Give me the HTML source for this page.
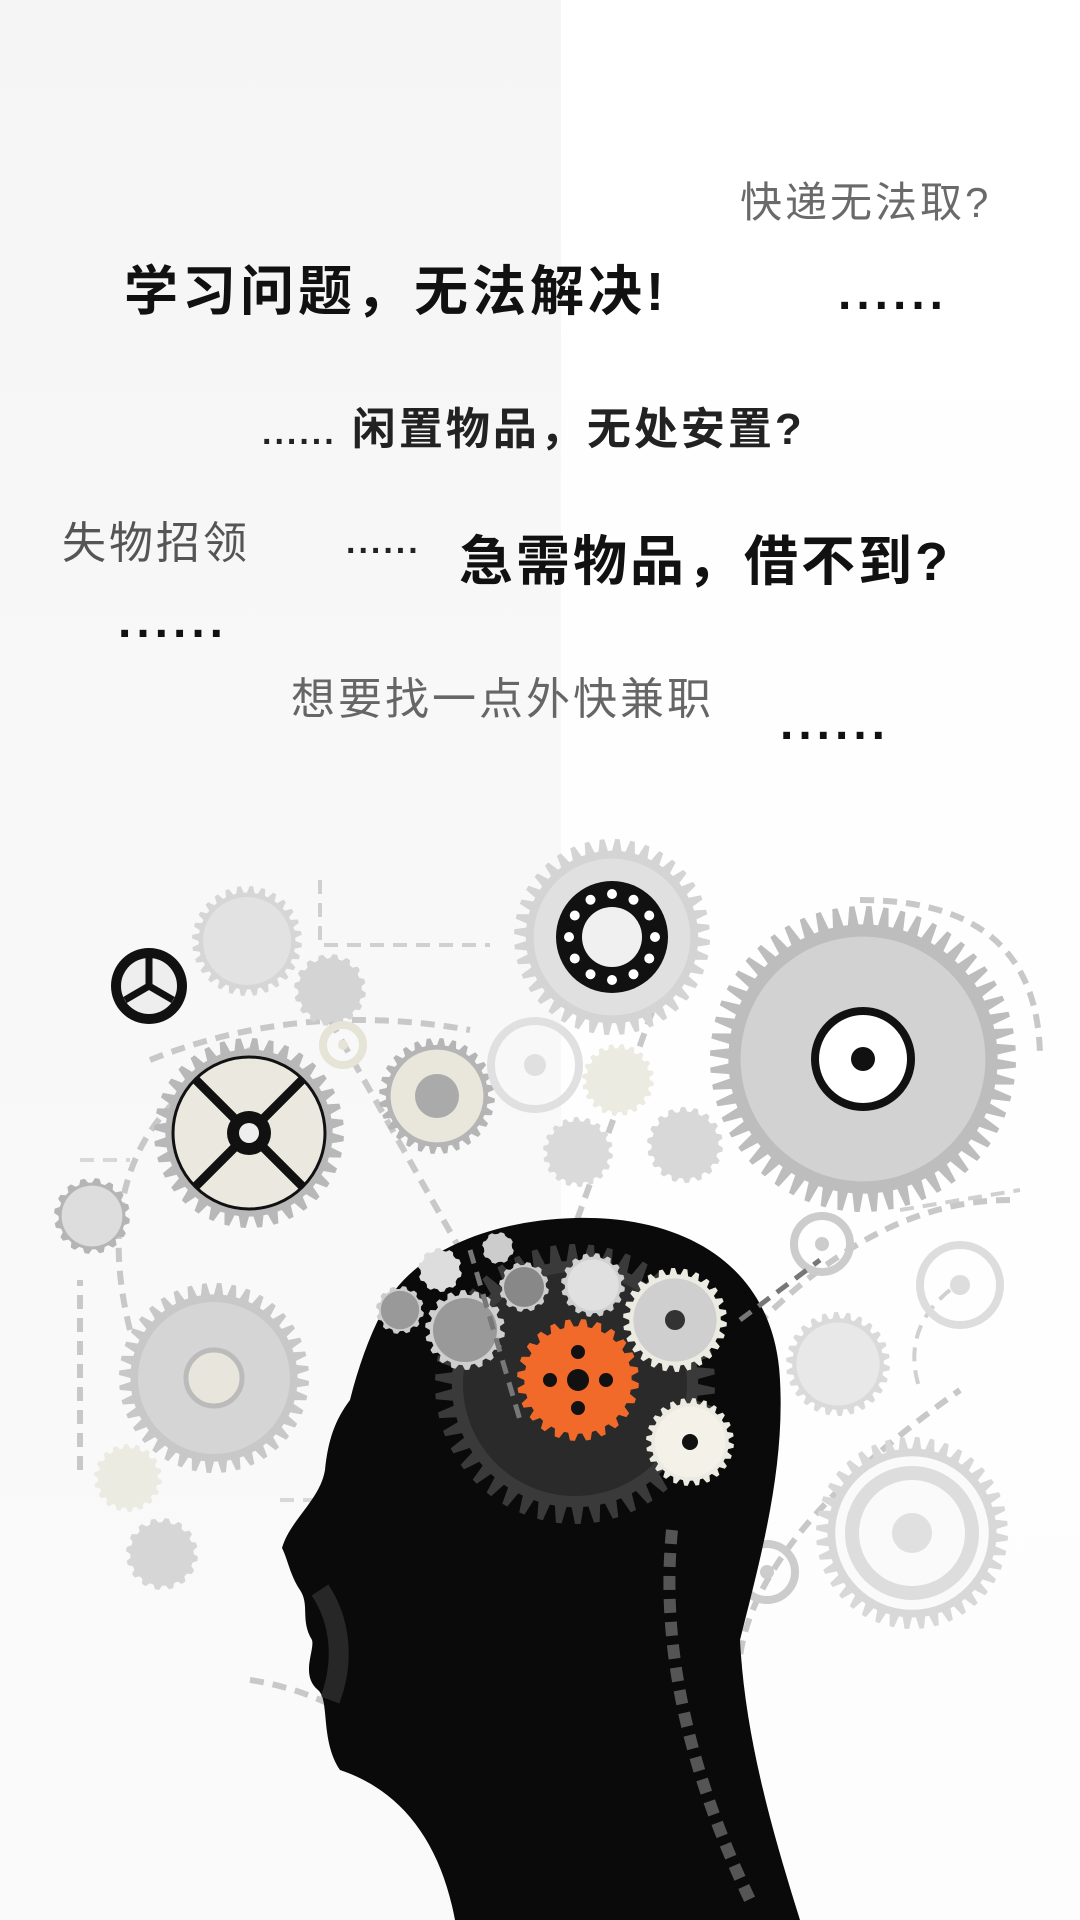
<!DOCTYPE html>
<html><head><meta charset="utf-8">
<style>
html,body{margin:0;padding:0}
body{width:1080px;height:1920px;position:relative;overflow:hidden;background:#fff;font-family:"Liberation Sans","Noto Sans CJK SC",sans-serif}
#bgl{position:absolute;left:0;top:0;width:561px;height:1920px;background:linear-gradient(#f5f5f5,#f8f8f8 40%,#fafafa)}
#bgr{position:absolute;left:561px;top:0;width:519px;height:1920px;background:linear-gradient(#fff,#fdfdfd)}
.t{position:absolute;white-space:nowrap;letter-spacing:3px;line-height:1}
.d{letter-spacing:5px}
svg{position:absolute;left:0;top:0}
</style></head><body>
<div id="bgl"></div>
<div id="bgr"></div>
<svg width="1080" height="1920" id="art"></svg>
<div class="t" style="left:740px;top:182px;font-size:42px;color:#6a6a6a">快递无法取?</div>
<div class="t" style="left:124px;top:265px;font-size:54px;color:#111;font-weight:bold;letter-spacing:4px">学习问题，无法解决!</div>
<div class="t d" style="left:838px;top:270px;font-size:48px;color:#111;font-weight:bold">......</div>
<div class="t" style="left:262px;top:408px;font-size:44px;color:#222;font-weight:bold"><span style="font-size:34px">......</span> 闲置物品，无处安置?</div>
<div class="t" style="left:62px;top:522px;font-size:44px;color:#555">失物招领</div>
<div class="t" style="left:346px;top:525px;font-size:34px;color:#222;font-weight:bold">......</div>
<div class="t" style="left:459px;top:535px;font-size:54px;color:#111;font-weight:bold">急需物品，借不到?</div>
<div class="t d" style="left:118px;top:598px;font-size:48px;color:#111;font-weight:bold">......</div>
<div class="t" style="left:291px;top:678px;font-size:44px;color:#666">想要找一点外快兼职</div>
<div class="t d" style="left:780px;top:700px;font-size:48px;color:#111;font-weight:bold">......</div>
<script>
const NS="http://www.w3.org/2000/svg";
const svg=document.getElementById('art');
function el(tag,attrs,parent){const e=document.createElementNS(NS,tag);for(const k in attrs)e.setAttribute(k,attrs[k]);(parent||svg).appendChild(e);return e;}
function gearPath(cx,cy,r,n,th){let d='';const step=Math.PI*2/n;for(let i=0;i<n;i++){const a=i*step;const pts=[[a,r-th],[a+step*0.2,r],[a+step*0.5,r],[a+step*0.7,r-th]];pts.forEach((p,j)=>{const x=cx+p[1]*Math.cos(p[0]),y=cy+p[1]*Math.sin(p[0]);d+=(i==0&&j==0?'M':'L')+x.toFixed(1)+' '+y.toFixed(1);});}return d+'Z';}
function gear(cx,cy,r,n,col,inner,name){const g=el('g',{});


el('path',{d:gearPath(cx,cy,r,n,r*0.12),fill:col},g);
if(inner)el('circle',{cx,cy,r:r*0.8,fill:inner},g);return g;}
function dash(d,col,w){const p=el('path',{d,fill:'none',stroke:col||'#c8c8c8','stroke-width':w||6,'stroke-dasharray':'14 9'});

}
dash('M860 900 Q1040 900 1040 1060');dash('M150 1060 Q300 1000 470 1030');dash('M130 1330 Q80 1130 250 1050');
dash('M330 1020 L500 1320');dash('M660 990 L530 1350');dash('M1010 1200 Q850 1200 700 1390');
dash('M740 1700 Q720 1560 960 1390');dash('M80 1470 L80 1280');dash('M250 1680 Q380 1700 450 1820');
dash('M320 880 L320 945 L490 945','#d0d0d0',4);dash('M280 1500 L460 1500','#d8d8d8',4);dash('M900 1210 L1020 1190','#d0d0d0',4);
dash('M80 1160 L130 1160','#d8d8d8',4);dash('M950 1290 Q900 1330 920 1390','#d0d0d0',4);
gear(863,1059,153,56,'#bdbdbd','#d2d2d2','big-gear-right');
el('circle',{cx:863,cy:1059,r:48,fill:'#fff',stroke:'#111','stroke-width':8});
el('circle',{cx:863,cy:1059,r:12,fill:'#111'});
gear(612,937,98,40,'#d4d4d4','#e0e0e0','gear-top');
el('circle',{cx:612,cy:937,r:56,fill:'#111'});el('circle',{cx:612,cy:937,r:30,fill:'#f0f0f0'});
for(let i=0;i<12;i++){const a=i*Math.PI/6;el('circle',{cx:612+43*Math.cos(a),cy:937+43*Math.sin(a),r:5,fill:'#fff'});}
gear(249,1133,95,36,'#b8b8b8','#a8a8a8','gear-x-wheel');
el('circle',{cx:249,cy:1133,r:76,fill:'#ebe9df',stroke:'#111','stroke-width':3});
el('path',{d:'M196 1080 L302 1186 M302 1080 L196 1186',stroke:'#111','stroke-width':9});
el('circle',{cx:249,cy:1133,r:22,fill:'#111'});el('circle',{cx:249,cy:1133,r:10,fill:'#eee'});
gear(214,1378,95,40,'#c8c8c8','#d5d5d5','gear-left-lower');
el('circle',{cx:214,cy:1378,r:28,fill:'#e8e6dc',stroke:'#bbb','stroke-width':5});
gear(912,1533,96,40,'#d8d8d8','#fafafa','gear-bottom-right');
el('circle',{cx:912,cy:1533,r:60,fill:'none',stroke:'#ddd','stroke-width':14});
el('circle',{cx:912,cy:1533,r:20,fill:'#e0e0e0'});
gear(437,1096,58,28,'#b5b5b5','#e9e7dc','gear-mid');el('circle',{cx:437,cy:1096,r:22,fill:'#aaa'});
gear(247,941,55,28,'#d6d6d6','#e2e2e2','gear-upper-left');
gear(330,990,36,16,'#d4d4d4',null,'gear-small-1');
gear(578,1152,35,18,'#dadada',null,'gear-small-2');
gear(685,1145,38,18,'#d8d8d8',null,'gear-small-3');
gear(618,1080,36,20,'#ecebe2',null,'gear-small-4');
gear(838,1364,52,26,'#dadada','#e8e8e8','gear-right-mid');
gear(92,1216,38,16,'#b5b5b5','#ddd','gear-far-left');
gear(162,1554,36,16,'#d6d6d6',null,'gear-small-5');
gear(128,1478,34,18,'#ecebe2',null,'gear-small-6');
[[960,1285,40,'#ddd'],[535,1065,44,'#e0e0e0'],[822,1244,28,'#ccc'],[767,1572,28,'#ccc'],[343,1045,20,'#e6e4d6']].forEach(c=>{el('circle',{cx:c[0],cy:c[1],r:c[2],fill:'none',stroke:c[3],'stroke-width':8});el('circle',{cx:c[0],cy:c[1],r:c[2]*0.25,fill:c[3]});});
el('circle',{cx:149,cy:986,r:38,fill:'#111'});el('circle',{cx:149,cy:986,r:28,fill:'#eee'});
el('path',{d:'M149 986 L149 958 M149 986 L125 1000 M149 986 L173 1000',stroke:'#111','stroke-width':7});
const head=el('path',{d:'M575 1218 C690 1215 775 1270 780 1380 C785 1470 760 1560 740 1640 C745 1740 775 1840 800 1920 L455 1920 C440 1840 400 1790 340 1770 C320 1740 330 1700 318 1690 C300 1675 315 1650 312 1640 C300 1620 310 1605 300 1590 C290 1575 288 1560 282 1548 C290 1520 320 1500 325 1470 C328 1440 335 1420 350 1400 C360 1360 375 1320 395 1290 C430 1245 500 1220 575 1218 Z',fill:'#0a0a0a'});


el('path',{d:'M320 1590 C340 1620 345 1660 330 1700',stroke:'#444','stroke-width':20,fill:'none',opacity:0.5});
gear(575,1384,140,46,'#3a3a3a','#2a2a2a','brain-dark-gear');
gear(578,1380,61,24,'#f26a2a',null,'orange-gear');
el('circle',{cx:578,cy:1380,r:11,fill:'#111'});
[[-28,0],[28,0],[0,-28],[0,28]].forEach(o=>el('circle',{cx:578+o[0],cy:1380+o[1],r:7,fill:'#111'}));
gear(675,1320,52,26,'#ecebe2','#cfcfcf','brain-gear-a');el('circle',{cx:675,cy:1320,r:10,fill:'#333'});
gear(690,1442,44,24,'#ecebe2','#f4f2e8','brain-gear-b');el('circle',{cx:690,cy:1442,r:8,fill:'#111'});
gear(465,1330,40,18,'#cfcfcf','#999','brain-gear-c');
gear(593,1285,32,16,'#d0d0d0','#e0e0e0','brain-gear-d');
gear(524,1287,25,12,'#ccc','#888','brain-gear-e');
gear(440,1270,22,10,'#ddd',null,'brain-gear-f');
gear(400,1310,24,12,'#ccc','#999','brain-gear-g');
gear(498,1248,16,8,'#ccc',null,'brain-gear-h');
dash('M672 1530 Q655 1700 750 1900','#555',12);
dash('M470 1250 L520 1420','#777',5);dash('M740 1320 L820 1260','#777',5);
</script>
</body></html>
